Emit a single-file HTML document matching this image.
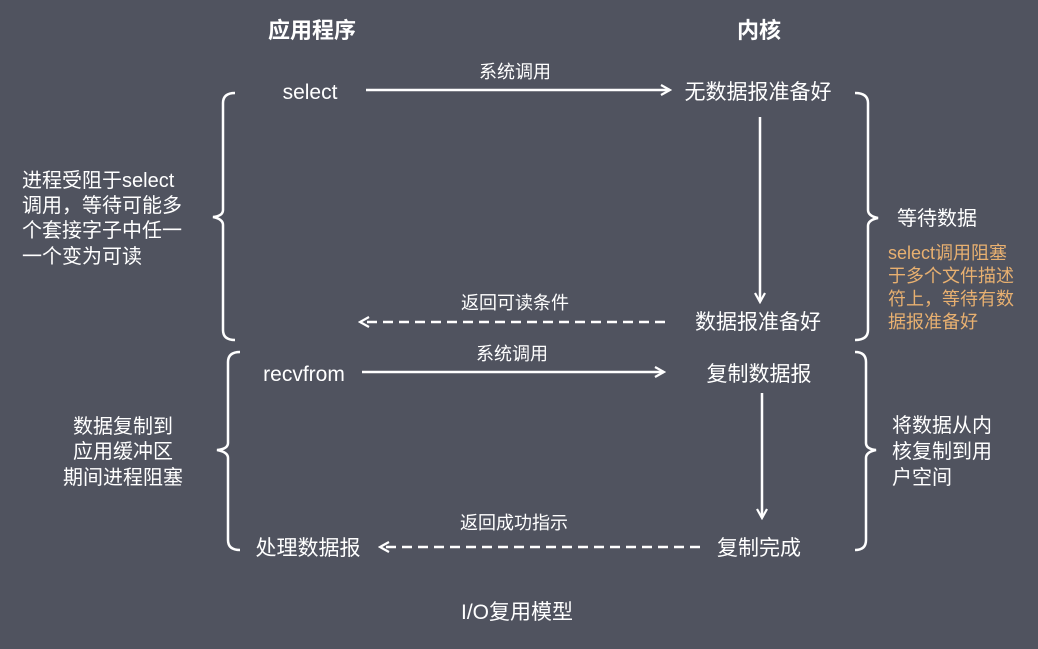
<!DOCTYPE html>
<html><head><meta charset="utf-8"><style>
html,body{margin:0;padding:0;background:#50535f;}
svg{display:block;}
text{font-family:"Liberation Sans","Noto Sans CJK SC",sans-serif;fill:#fff;}
text.o{fill:#e8b070;}
</style></head><body>
<svg width="1038" height="649" viewBox="0 0 1038 649">
<rect width="1038" height="649" fill="#50535f"/>
<defs>
<marker id="a" markerWidth="12" markerHeight="12" refX="10" refY="6" orient="auto" markerUnits="userSpaceOnUse">
<path d="M1,1 L10,6 L1,11" fill="none" stroke="#fff" stroke-width="2.2"/></marker>
</defs>
<g font-size="22" font-weight="bold" text-anchor="middle">
<text x="312" y="38">应用程序</text><text x="759" y="38">内核</text></g>
<g font-size="21" text-anchor="middle">
<text x="310" y="99">select</text>
<text x="758" y="99">无数据报准备好</text>
<text x="758" y="329">数据报准备好</text>
<text x="304" y="381">recvfrom</text>
<text x="759" y="381">复制数据报</text>
<text x="308" y="555">处理数据报</text>
<text x="759" y="555">复制完成</text>
<text x="517" y="619">I/O复用模型</text>
</g>
<g font-size="18" text-anchor="middle">
<text x="515" y="78">系统调用</text>
<text x="515" y="309">返回可读条件</text>
<text x="512" y="360">系统调用</text>
<text x="514" y="529">返回成功指示</text>
</g>
<g stroke="#fff" stroke-width="2.5" fill="none">
<line x1="366" y1="90" x2="670" y2="90" marker-end="url(#a)"/>
<line x1="760" y1="117" x2="760" y2="302" marker-end="url(#a)"/>
<line x1="665" y1="322" x2="360" y2="322" stroke-dasharray="10,6" marker-end="url(#a)"/>
<line x1="362" y1="372" x2="664" y2="372" marker-end="url(#a)"/>
<line x1="762" y1="393" x2="762" y2="518" marker-end="url(#a)"/>
<line x1="700" y1="547" x2="380" y2="547" stroke-dasharray="10,6" marker-end="url(#a)"/>
<path d="M235,93 Q223,93 223,103 L223,210 Q223,216 213,217 Q223,219 223,225 L223,330 Q223,340 235,340"/>
<path d="M855,93 Q868,93 868,103 L868,210 Q868,216 878,218 Q868,220 868,226 L868,330 Q868,340 855,340"/>
<path d="M240,352 Q228,352 228,362 L228,443 Q228,449 217,450 Q228,452 228,458 L228,540 Q228,550 240,550"/>
<path d="M855,352 Q866,352 866,362 L866,443 Q866,449 876,450 Q866,452 866,458 L866,540 Q866,550 855,550"/>
</g>
<g font-size="20">
<text x="22" y="187">进程受阻于select</text>
<text x="22" y="212">调用，等待可能多</text>
<text x="22" y="237">个套接字子中任一</text>
<text x="22" y="263">一个变为可读</text>
<text x="897" y="225">等待数据</text>
<text x="892" y="432">将数据从内</text>
<text x="892" y="458">核复制到用</text>
<text x="892" y="484">户空间</text>
</g>
<g font-size="20" text-anchor="middle">
<text x="123" y="433">数据复制到</text>
<text x="123" y="458">应用缓冲区</text>
<text x="123" y="484">期间进程阻塞</text>
</g>
<g font-size="18">
<text class="o" x="888" y="259" style="fill:#e8b070">select调用阻塞</text>
<text class="o" x="888" y="282" style="fill:#e8b070">于多个文件描述</text>
<text class="o" x="888" y="305" style="fill:#e8b070">符上，等待有数</text>
<text class="o" x="888" y="328" style="fill:#e8b070">据报准备好</text>
</g>
</svg>
</body></html>
